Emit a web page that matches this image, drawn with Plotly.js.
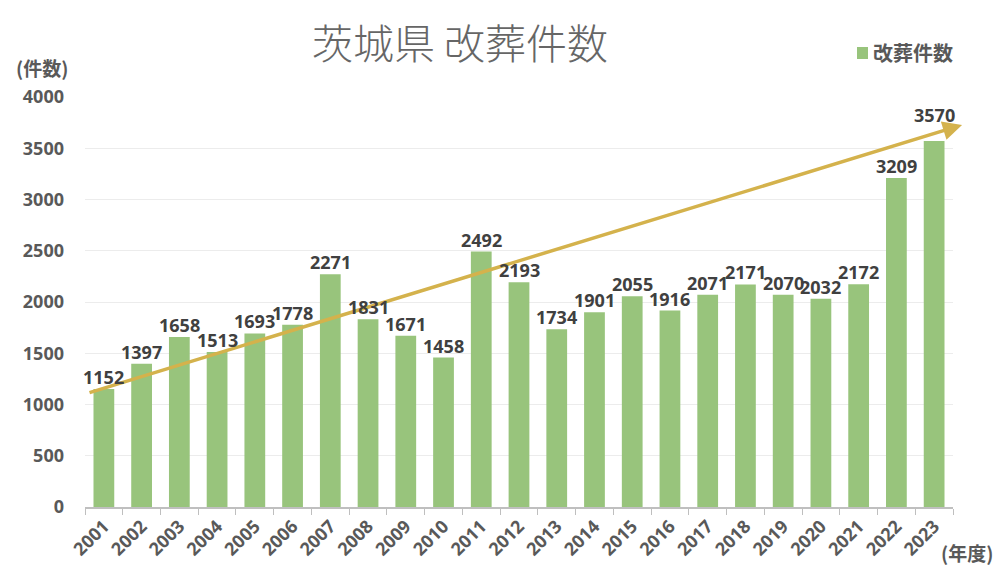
<!DOCTYPE html>
<html><head><meta charset="utf-8">
<script src="https://cdn.plot.ly/plotly-3.0.1.min.js"></script>
<style>html,body{margin:0;padding:0;background:#fff}#chart{width:1000px;height:575px}</style>
</head><body><div id="chart"></div>
<script>
const years = ['2001','2002','2003','2004','2005','2006','2007','2008','2009','2010','2011','2012','2013','2014','2015','2016','2017','2018','2019','2020','2021','2022','2023'];
const counts = [1152,1397,1658,1513,1693,1778,2271,1831,1671,1458,2492,2193,1734,1901,2055,1916,2071,2171,2070,2032,2172,3209,3570];
const seriesName = '改葬件数';
const titleText = '茨城県 改葬件数';
const yUnit = '(件数)';
const xUnit = '(年度)';
const trendStart = [-0.42, 1112];
const trendEnd = [22.74, 3727];

const W = 1000, H = 575, ML = 85, MR = 47, MT = 97, MB = 68;
const PW = W - ML - MR, PH = H - MT - MB;
const px = v => (v - ML) / PW;          // pixel x -> paper x
const py = v => (H - MB - v) / PH;      // pixel y -> paper y
const nCat = years.length;
const catDomain = i => (i + 0.5) / nCat; // category index -> x domain fraction

const numFont = '"Open Sans", "Noto Sans CJK JP", sans-serif';
const jpFont = '"Noto Sans CJK JP", sans-serif';
const barColor = '#98c47c';

const trace = {
  type: 'bar', x: years, y: counts, name: seriesName,
  marker: {color: barColor},
  showlegend: false, hoverinfo: 'x+y'
};

// trend arrow first, so value labels (annotations drawn after it) sit on top
const annotations = [
  {x: catDomain(trendEnd[0]), y: trendEnd[1], ax: catDomain(trendStart[0]), ay: trendStart[1],
   xref: 'x domain', yref: 'y', axref: 'x domain', ayref: 'y',
   showarrow: true, arrowhead: 2, arrowsize: 1.1, arrowwidth: 3.5, arrowcolor: '#d4b24c', text: ''}
];
years.forEach((yr, i) => {
  const last = i === years.length - 1;
  annotations.push({x: i, y: counts[i], xref: 'x', yref: 'y', text: String(counts[i]), showarrow: false,
    yanchor: 'bottom', xanchor: 'center', yshift: last ? 12 : -2,
    font: {family: numFont, size: 18, color: '#404040', weight: 'bold'}});
});
annotations.push(
  {text: seriesName, xref: 'paper', yref: 'paper', x: px(871), y: py(53), xanchor: 'left', yanchor: 'middle', showarrow: false,
   font: {family: jpFont, size: 20, color: '#595959', weight: 'bold'}},
  {text: yUnit, xref: 'paper', yref: 'paper', x: px(14), y: py(68), xanchor: 'left', yanchor: 'middle', showarrow: false,
   font: {family: jpFont, size: 19, color: '#595959', weight: 'bold'}},
  {text: xUnit, xref: 'paper', yref: 'paper', x: px(939), y: py(552), xanchor: 'left', yanchor: 'middle', showarrow: false,
   font: {family: jpFont, size: 19, color: '#595959', weight: 'bold'}}
);

const layout = {
  width: W, height: H,
  margin: {l: ML, r: MR, t: MT, b: MB},
  paper_bgcolor: '#fff', plot_bgcolor: '#fff',
  showlegend: false,
  title: {text: titleText, x: px(460), xanchor: 'center', xref: 'paper', y: 1 - 45 / H, yanchor: 'middle',
    font: {family: jpFont, size: 41, color: '#666666', weight: 300}},
  bargap: 0.45,
  xaxis: {type: 'category', range: [-0.5, 22.5], tickangle: -45, tickson: 'boundaries', ticks: 'outside', ticklen: 6,
    tickcolor: '#bfbfbf', showline: true, linecolor: '#bfbfbf', linewidth: 1.5,
    tickfont: {family: numFont, size: 18, color: '#595959', weight: 'bold'},
    automargin: false, showgrid: false},
  yaxis: {range: [0, 4000], dtick: 500, showgrid: true, gridcolor: '#ececec', zeroline: false,
    tickfont: {family: numFont, size: 18, color: '#595959', weight: 'bold'},
    ticklabelstandoff: 20, automargin: false},
  shapes: [
    {type: 'rect', xref: 'paper', yref: 'paper', x0: px(857), x1: px(868), y0: py(59), y1: py(47),
     fillcolor: barColor, line: {width: 0}}
  ],
  annotations: annotations
};
Plotly.newPlot('chart', [trace], layout, {displayModeBar: false});
</script></body></html>
